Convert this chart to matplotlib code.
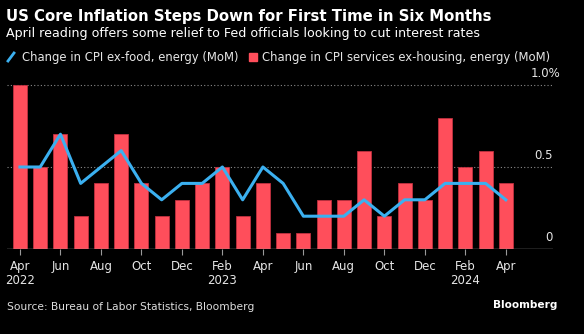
"""Recreate the Bloomberg core CPI chart (Apr 2022 - Apr 2024)."""

import matplotlib

matplotlib.use("Agg")
import matplotlib.pyplot as plt
from matplotlib.lines import Line2D
from matplotlib.patches import Rectangle

# monthly changes, %, Apr 2022 .. Apr 2024
months = ["Apr", "May", "Jun", "Jul", "Aug", "Sep", "Oct", "Nov", "Dec",
          "Jan", "Feb", "Mar", "Apr", "May", "Jun", "Jul", "Aug", "Sep",
          "Oct", "Nov", "Dec", "Jan", "Feb", "Mar", "Apr"]
core_cpi = [0.5, 0.5, 0.7, 0.4, 0.5, 0.6, 0.4, 0.3, 0.4, 0.4, 0.5, 0.3, 0.5,
            0.4, 0.2, 0.2, 0.2, 0.3, 0.2, 0.3, 0.3, 0.4, 0.4, 0.4, 0.3]
services = [1.0, 0.5, 0.7, 0.2, 0.4, 0.7, 0.4, 0.2, 0.3, 0.4, 0.5, 0.2, 0.4,
            0.1, 0.1, 0.3, 0.3, 0.6, 0.2, 0.4, 0.3, 0.8, 0.5, 0.6, 0.4]
tick_labels = ["Apr\n2022", "Jun", "Aug", "Oct", "Dec", "Feb\n2023", "Apr",
               "Jun", "Aug", "Oct", "Dec", "Feb\n2024", "Apr"]
y_ticks = [0, 0.5, 1.0]
y_tick_labels = ["0", "0.5", "1.0%"]

BG = "black"
RED = "#ff4e5b"
BLUE = "#3bb0f0"
W, H = 584, 334

plt.rcParams["font.family"] = ["DejaVu Sans"]

fig = plt.figure(figsize=(W / 100, H / 100), dpi=100, facecolor=BG)


def fx(px):
    return px / W


def fy(py):
    return 1 - py / H


# plot area: baseline at y=249, 1.0 gridline at y=85
y_top = 1.05
top_px = 249 - y_top * 164
ax = fig.add_axes([fx(7), fy(249), fx(553) - fx(7), fy(top_px) - fy(249)])
ax.set_facecolor(BG)
x = list(range(len(months)))
ax.set_xlim(-0.64, 26.33)
ax.set_ylim(0, y_top)

ax.bar(x, services, width=0.69, color=RED, edgecolor="#c03040", linewidth=0.6, zorder=2)
ax.plot(x, core_cpi, color=BLUE, linewidth=2.2, zorder=3, clip_on=False)

for v in y_ticks[1:]:
    ax.axhline(v, color="#8a8a8a", linewidth=0.8, linestyle=(0, (1, 2)), zorder=1)
ax.axhline(0, color="#9a9a9a", linewidth=1.0, zorder=4)
for v, lab in zip(y_ticks, y_tick_labels):
    ax.text(1.0 if lab != "1.0%" else 1.013, v + 0.03, lab, transform=ax.get_yaxis_transform(),
            ha="right", va="bottom", color="#e6e6e6", fontsize=8.5,
            bbox=dict(facecolor=BG, edgecolor="none", pad=1), zorder=5)

for s in ax.spines.values():
    s.set_visible(False)
ax.set_yticks([])
ax.set_xticks(x[::2])
ax.set_xticklabels(tick_labels, color="#e6e6e6", fontsize=8.5, linespacing=1.05)
ax.tick_params(axis="x", length=4, width=0.8, color="#9a9a9a", pad=4)

# header
fig.text(fx(6), fy(16), "US Core Inflation Steps Down for First Time in Six Months",
         color="white", fontsize=10.7, fontweight="bold", va="center")
fig.text(fx(6), fy(33), "April reading offers some relief to Fed officials looking to cut interest rates",
         color="white", fontsize=9.1, va="center")

# legend
fig.add_artist(Line2D([fx(8), fx(14)], [fy(61), fy(53)], color=BLUE, linewidth=2,
                      transform=fig.transFigure))
fig.text(fx(22), fy(57), "Change in CPI ex-food, energy (MoM)", color="#e6e6e6",
         fontsize=8.4, va="center")
fig.add_artist(Rectangle((fx(249), fy(61)), fx(8), fy(53) - fy(61), color=RED,
                         transform=fig.transFigure))
fig.text(fx(262), fy(57), "Change in CPI services ex-housing, energy (MoM)", color="#e6e6e6",
         fontsize=8.4, va="center")

# footer
fig.text(fx(7), fy(307), "Source: Bureau of Labor Statistics, Bloomberg", color="#dddddd",
         fontsize=7.7, va="center")
fig.text(fx(557), fy(305), "Bloomberg", color="white", fontsize=7.6, fontweight="bold",
         va="center", ha="right")

fig.savefig("out.png", dpi=100, facecolor=BG)
